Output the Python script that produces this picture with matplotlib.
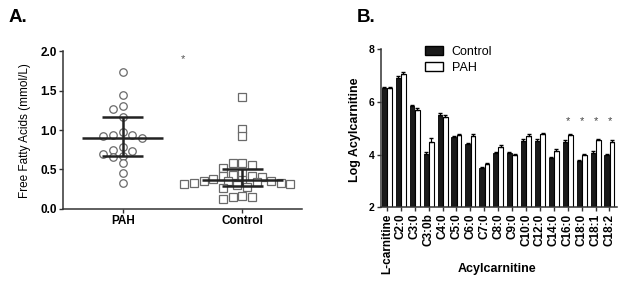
import matplotlib
matplotlib.use('Agg')
import matplotlib.pyplot as plt
import numpy as np
from matplotlib.patches import Patch

plt.rcParams['font.family'] = ['Liberation Sans', 'DejaVu Sans']

# panel A: free fatty acids (mmol/L)
pah_ffa = [1.74, 1.44, 1.31, 1.26, 1.16, 0.98, 0.94, 0.94, 0.93, 0.90,
           0.78, 0.75, 0.73, 0.70, 0.67, 0.66, 0.58, 0.46, 0.33]
ctrl_ffa = [1.42, 1.01, 0.92, 0.58, 0.58, 0.56, 0.52, 0.46, 0.43, 0.42,
            0.42, 0.41, 0.38, 0.37, 0.36, 0.36, 0.35, 0.34, 0.33, 0.33,
            0.32, 0.32, 0.30, 0.28, 0.27, 0.17, 0.15, 0.15, 0.13]
# median and interquartile range as drawn
pah_stats = [0.67, 0.90, 1.16]
ctrl_stats = [0.29, 0.37, 0.51]
groups_a = ['PAH', 'Control']

# panel B: log acylcarnitine
acyl = ['L-carnitine', 'C2:0', 'C3:0', 'C3:0b', 'C4:0', 'C5:0', 'C6:0', 'C7:0',
        'C8:0', 'C9:0', 'C10:0', 'C12:0', 'C14:0', 'C16:0', 'C18:0', 'C18:1', 'C18:2']
ctrl_log = [6.52, 6.92, 5.84, 4.04, 5.51, 4.68, 4.41, 3.51, 4.05, 4.05,
            4.53, 4.53, 3.87, 4.49, 3.77, 4.08, 3.99]
pah_log = [6.54, 7.08, 5.71, 4.49, 5.44, 4.73, 4.71, 3.65, 4.29, 3.97,
           4.71, 4.77, 4.15, 4.73, 3.97, 4.56, 4.49]
ctrl_err = [0.04, 0.05, 0.05, 0.06, 0.06, 0.04, 0.04, 0.03, 0.05, 0.05,
            0.06, 0.05, 0.04, 0.05, 0.04, 0.05, 0.05]
pah_err = [0.04, 0.05, 0.05, 0.15, 0.05, 0.05, 0.06, 0.04, 0.07, 0.05,
           0.07, 0.06, 0.05, 0.04, 0.04, 0.05, 0.06]
starred = ['C16:0', 'C18:0', 'C18:1', 'C18:2']


def swarm(vals, xscale, yscale, step=4.8, dmin=7.0):
    # simple column scatter: put each point at the nearest free slot
    placed = []
    xs = []
    for v in vals:
        k = 0
        while True:
            cands = [0] if k == 0 else [-k, k]
            ok = None
            for c in cands:
                px = c * step
                py = v * yscale
                if all((px - qx) ** 2 + (py - qy) ** 2 >= dmin ** 2 for qx, qy in placed):
                    ok = px
                    break
            if ok is not None:
                placed.append((ok, v * yscale))
                xs.append(ok / xscale)
                break
            k += 1
    return np.array(xs)


fig = plt.figure(figsize=(6.24, 2.82), dpi=100)
spine_c = '#333333'

ax1 = fig.add_axes([0.101, 0.259, 0.383, 0.560])
xpx, ypx = 119.0, 79.0
for i, (vals, st, mk) in enumerate([(pah_ffa, pah_stats, 'o'), (ctrl_ffa, ctrl_stats, 's')]):
    off = swarm(vals, xpx, ypx)
    ax1.plot(i + off, vals, mk, ls='none', mfc='white', mec='#6a6a6a', mew=0.9, ms=5.4, zorder=2)
    ax1.hlines(st[1], i - 0.34, i + 0.34, color='#222222', lw=1.8, zorder=3)
    ax1.hlines([st[0], st[2]], i - 0.17, i + 0.17, color='#222222', lw=1.8, zorder=3)
    ax1.vlines(i, st[0], st[2], color='#222222', lw=1.8, zorder=3)
ax1.text(0.5, 1.9, '*', ha='center', va='center', fontsize=8, color='#555555')
ax1.set_xlim(-0.5, 1.5)
ax1.set_ylim(0, 2.0)
ax1.set_xticks([0, 1])
ax1.set_xticklabels(groups_a, fontsize=8.5, fontweight='bold')
ax1.set_yticks([0, 0.5, 1.0, 1.5, 2.0])
ax1.set_yticklabels(['0.0', '0.5', '1.0', '1.5', '2.0'], fontsize=8.5, fontweight='bold')
ax1.set_ylabel('Free Fatty Acids (mmol/L)', fontsize=8.5)
ax1.yaxis.set_label_coords(-0.134, 0.494)

ax2 = fig.add_axes([0.610, 0.265, 0.379, 0.560])
x = np.arange(len(acyl))
w = 0.34
ax2.bar(x - 0.19, np.array(ctrl_log) - 2, w, bottom=2, color='#1a1a1a', edgecolor='black', lw=0.6)
ax2.bar(x + 0.19, np.array(pah_log) - 2, w, bottom=2, color='white', edgecolor='black', lw=0.8)
ax2.errorbar(x - 0.19, ctrl_log, yerr=[np.zeros(len(x)), ctrl_err], fmt='none', ecolor='black', elinewidth=0.8, capsize=1.2)
ax2.errorbar(x + 0.19, pah_log, yerr=[np.zeros(len(x)), pah_err], fmt='none', ecolor='black', elinewidth=0.8, capsize=1.2)
for name in starred:
    ax2.text(acyl.index(name), 5.29, '*', ha='center', va='center', fontsize=8, color='#444444')
ax2.set_xlim(-0.45, 16.55)
ax2.set_ylim(2, 8)
ax2.set_xticks(x)
ax2.set_xticklabels(acyl, rotation=90, fontsize=8.5, fontweight='bold')
ax2.set_yticks([2, 4, 6, 8])
ax2.set_yticklabels(['2', '4', '6', '8'], fontsize=7.5, fontweight='bold')
ax2.set_ylabel('Log Acylcarnitine', fontsize=9, fontweight='bold')
ax2.yaxis.set_label_coords(-0.083, 0.49)
ax2.set_xlabel('Acylcarnitine', fontsize=9, fontweight='bold')
ax2.xaxis.set_label_coords(0.494, -0.35)
handles = [Patch(facecolor='#1a1a1a', edgecolor='black', label='Control'),
           Patch(facecolor='white', edgecolor='black', label='PAH')]
ax2.legend(handles=handles, loc='upper left', bbox_to_anchor=(0.1875, 1.02), frameon=False,
           fontsize=9, handlelength=1.45, handleheight=0.7, labelspacing=0.3, borderpad=0,
           borderaxespad=0, handletextpad=0.7)

for ax in (ax1, ax2):
    ax.spines['top'].set_visible(False)
    ax.spines['right'].set_visible(False)
    for s in ('left', 'bottom'):
        ax.spines[s].set_linewidth(1.1)
        ax.spines[s].set_color(spine_c)
    ax.tick_params(direction='out', length=3, width=1, color=spine_c, pad=1.5)

fig.text(0.013, 0.922, 'A.', fontsize=13.5, fontweight='bold', va='baseline')
fig.text(0.572, 0.922, 'B.', fontsize=13.5, fontweight='bold', va='baseline')

fig.savefig('out.png', dpi=100)
